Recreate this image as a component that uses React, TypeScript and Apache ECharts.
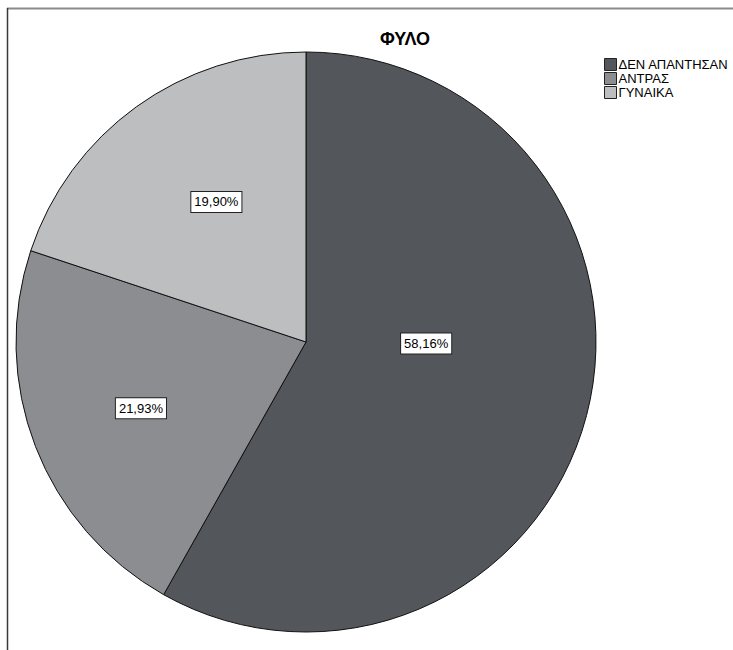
import React, { useEffect, useRef } from "react";
import * as echarts from "echarts";

// Gender breakdown (percent of respondents)
const categories = ["ΔΕΝ ΑΠΑΝΤΗΣΑΝ", "ΑΝΤΡΑΣ", "ΓΥΝΑΙΚΑ"];
const shares = [58.16, 21.93, 19.9];
const sliceColors = ["#53565a", "#8c8d91", "#bdbec0"];
const chartTitle = "ΦΥΛΟ";
// Nudges applied to each value box relative to its default inside position
const labelNudges: [number, number][] = [
  [-23, -36],
  [-27, 13],
  [-3, -20],
];

const fmt = (v: number) => v.toFixed(2).replace(".", ",") + "%";

export default function App() {
  const ref = useRef<HTMLDivElement>(null);

  useEffect(() => {
    if (!ref.current) return;
    const chart = echarts.init(ref.current, null, { renderer: "svg" });
    chart.setOption({
      animation: false,
      backgroundColor: "#ffffff",
      textStyle: { fontFamily: "Liberation Sans, Arial, sans-serif" },
      title: {
        text: chartTitle,
        left: 400,
        top: 25,
        textAlign: "center",
        textStyle: {
          fontSize: 18,
          fontWeight: "bold",
          color: "#000",
          fontFamily: "Liberation Sans, Arial, sans-serif",
        },
      },
      legend: {
        orient: "vertical",
        left: 599,
        top: 53,
        itemWidth: 12,
        itemHeight: 12,
        itemGap: 1,
        icon: "rect",
        selectedMode: false,
        itemStyle: { borderColor: "#222", borderWidth: 1 },
        textStyle: {
          fontSize: 13,
          color: "#000",
          padding: [0, 0, 0, -3],
          fontFamily: "Liberation Sans, Arial, sans-serif",
        },
        data: categories,
      },
      graphic: [
        {
          type: "line",
          shape: { x1: 7, y1: 8.5, x2: 733, y2: 8.5 },
          style: { stroke: "#8a8a8a", lineWidth: 2 },
        },
        {
          type: "line",
          shape: { x1: 7.5, y1: 8, x2: 7.5, y2: 650 },
          style: { stroke: "#3a3a3a", lineWidth: 1.5 },
        },
      ],
      series: [
        {
          type: "pie",
          center: [306, 342],
          radius: 290,
          startAngle: 90,
          clockwise: true,
          silent: true,
          itemStyle: { borderColor: "#111", borderWidth: 1 },
          label: {
            show: true,
            position: "inside",
            formatter: (p: any) => fmt(p.value),
            color: "#000",
            fontSize: 13,
            backgroundColor: "#fff",
            borderColor: "#222",
            borderWidth: 1,
            padding: [4, 3, 3, 3],
            fontFamily: "Liberation Sans, Arial, sans-serif",
          },
          labelLine: { show: false },
          data: categories.map((name, i) => ({
            name,
            value: shares[i],
            itemStyle: { color: sliceColors[i] },
            label: { offset: labelNudges[i] },
          })),
        },
      ],
    });
    return () => chart.dispose();
  }, []);

  return (
    <div
      ref={ref}
      style={{ position: "absolute", left: 0, top: 0, width: 733, height: 650 }}
    />
  );
}
